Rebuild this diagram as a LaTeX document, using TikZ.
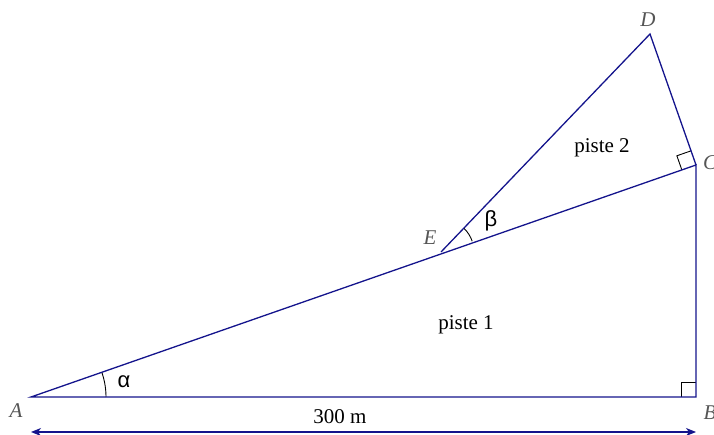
\documentclass[tikz,border=0pt]{standalone}
\usepackage{fontspec}
\setmainfont{Liberation Serif}
\newfontfamily\greekfont{Liberation Sans}
\usetikzlibrary{calc,arrows.meta}
\definecolor{piste}{RGB}{20,20,140}
\definecolor{ptlabel}{RGB}{85,85,85}
\tikzset{
  side/.style={piste,line width=1.3pt},
  anglemark/.style={black,line width=0.9pt},
  ptname/.style={ptlabel,font=\fontsize{21}{25}\selectfont\itshape},
  txt/.style={font=\fontsize{21}{25}\selectfont},
  greek/.style={font=\fontsize{22}{25}\selectfont\greekfont}
}
\begin{document}
\begin{tikzpicture}[x=1pt,y=1pt]
  \useasboundingbox (0,0) rectangle (714,435);
  \coordinate (A) at (31,38);
  \coordinate (B) at (696,38);
  \coordinate (C) at (696,270);
  \coordinate (D) at (650,401);
  \coordinate (E) at (441,183);
  % right angle marks
  \coordinate (c1) at ($(C)!15pt!(A)$);
  \coordinate (c2) at ($(C)!15pt!(D)$);
  \draw[anglemark] (c1) -- ($(c1)+(c2)-(C)$) -- (c2);
  \draw[anglemark] ($(B)+(-15,0)$) -- ($(B)+(-15,15)$) -- ($(B)+(0,15)$);
  % angles
  \draw[anglemark] ($(A)+(75pt,0)$) arc[start angle=0,end angle=19.2,radius=75pt];
  \draw[anglemark] ($(E)+(19.2:33pt)$) arc[start angle=19.2,end angle=46.2,radius=33pt];
  % sides
  \draw[side] (A) -- (B) -- (C) -- cycle;
  \draw[side] (E) -- (D) -- (C);
  % distance
  \coordinate (a0) at (31,3);
  \coordinate (b0) at (696,3);
  \draw[side,{Stealth[length=10pt,width=8pt,inset=3pt]}-{Stealth[length=10pt,width=8pt,inset=3pt]}] (a0) -- (b0);
  % labels
  \node[ptname] (lA) at (16,24) {A};
  \node[ptname] (lB) at (710,22) {B};
  \node[ptname] (lC) at (710,272) {C};
  \node[ptname] (lD) at (648,415) {D};
  \node[ptname] (lE) at (430,197) {E};
  \node[txt] (p2) at (602,287) {piste 2};
  \node[txt] (p1) at (466,110) {piste 1};
  \node[txt] (len) at (340,18) {300 m};
  \node[greek] (al) at (124,53) {α};
  \node[greek] (be) at (491,214) {β};
\end{tikzpicture}
\end{document}
